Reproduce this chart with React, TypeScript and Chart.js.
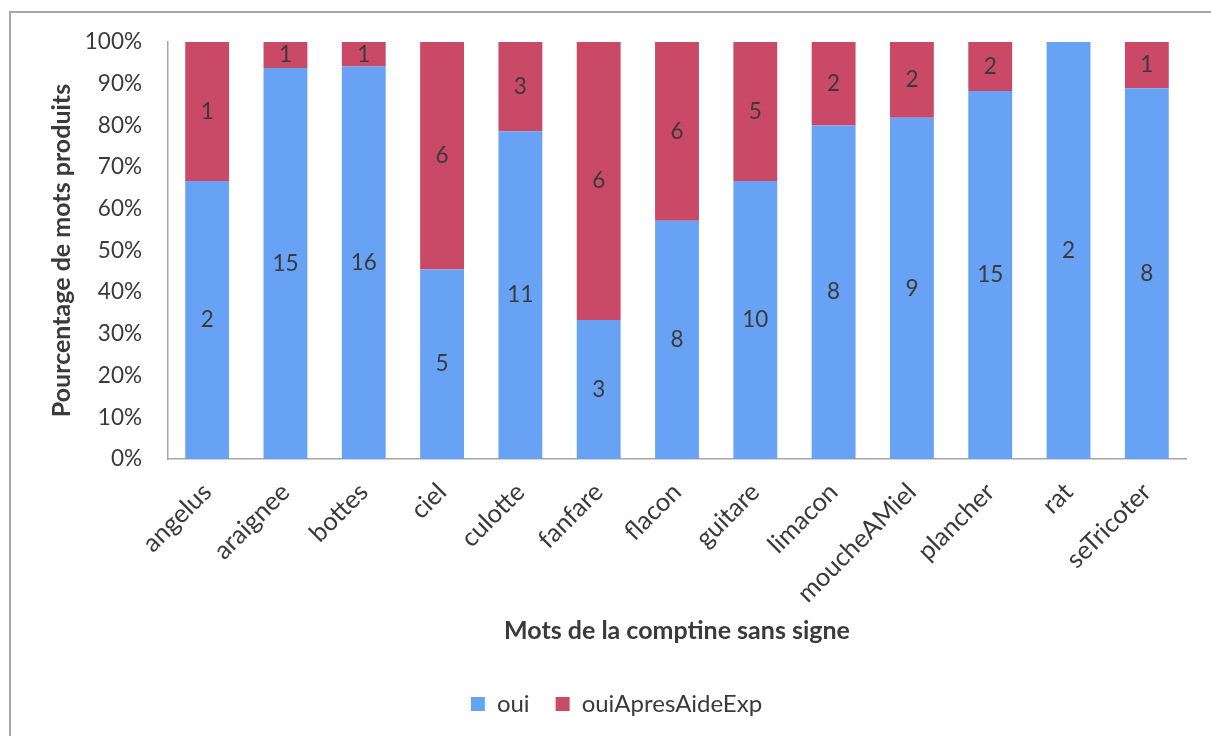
import { useEffect, useRef } from 'react';
import { Chart, registerables } from 'chart.js';

Chart.register(...registerables);

const categories = ['angelus', 'araignee', 'bottes', 'ciel', 'culotte', 'fanfare', 'flacon', 'guitare', 'limacon', 'moucheAMiel', 'plancher', 'rat', 'seTricoter'];
const ouiCounts = [2, 15, 16, 5, 11, 3, 8, 10, 8, 9, 15, 2, 8];
const apresCounts = [1, 1, 1, 6, 3, 6, 6, 5, 2, 2, 2, 0, 1];
const seriesNames = ['oui', 'ouiApresAideExp'];
const yTitle = 'Pourcentage de mots produits';
const xTitle = 'Mots de la comptine sans signe';

const FONT = 'Lato, "Open Sans", sans-serif';
const TEXT = '#3a3a3a';

export default function App() {
  const ref = useRef<HTMLCanvasElement | null>(null);
  useEffect(() => {
    if (!ref.current) return;
    const totals = ouiCounts.map((v, i) => v + apresCounts[i]);
    const ouiPct = ouiCounts.map((v, i) => (v / totals[i]) * 100);
    const apresPct = apresCounts.map((v, i) => (v / totals[i]) * 100);
    const counts = [ouiCounts, apresCounts];

    const labelPlugin = {
      id: 'segLabels',
      afterDatasetsDraw(chart: any) {
        const ctx = chart.ctx;
        ctx.save();
        ctx.font = `22.5px ${FONT}`;
        ctx.fillStyle = TEXT;
        ctx.textAlign = 'center';
        ctx.textBaseline = 'middle';
        chart.data.datasets.forEach((_: any, di: number) => {
          const meta = chart.getDatasetMeta(di);
          meta.data.forEach((el: any, i: number) => {
            const c = counts[di][i];
            if (!c) return;
            const p = el.getProps(['x', 'y', 'base'], true);
            ctx.fillText(String(c), p.x, (p.y + p.base) / 2);
          });
        });
        ctx.restore();
      },
    };

    const framePlugin = {
      id: 'frame',
      beforeDraw(chart: any) {
        const ctx = chart.ctx;
        ctx.save();
        ctx.fillStyle = '#ffffff';
        ctx.fillRect(0, 0, chart.width, chart.height);
        ctx.strokeStyle = '#a8a8a8';
        ctx.lineWidth = 2;
        ctx.beginPath();
        ctx.moveTo(10, chart.height + 2);
        ctx.lineTo(10, 12);
        ctx.lineTo(chart.width + 2, 12);
        ctx.stroke();
        ctx.restore();
      },
    };

    const chart = new Chart(ref.current, {
      type: 'bar',
      data: {
        labels: categories,
        datasets: [
          { label: seriesNames[0], data: ouiPct, backgroundColor: '#68a2f5', borderWidth: 0, barPercentage: 0.56, categoryPercentage: 1 },
          { label: seriesNames[1], data: apresPct, backgroundColor: '#ca4967', borderWidth: 0, barPercentage: 0.56, categoryPercentage: 1 },
        ],
      },
      options: {
        animation: false,
        responsive: false,
        layout: { padding: { left: 47, right: 25, top: 42, bottom: 10 } },
        plugins: {
          legend: {
            position: 'bottom',
            labels: { font: { family: FONT, size: 24 }, color: TEXT, boxWidth: 14, boxHeight: 14, padding: 26 },
          },
          tooltip: { enabled: false },
        },
        scales: {
          x: {
            stacked: true,
            grid: { display: false, drawTicks: false },
            border: { display: true, color: '#a6a6a6', width: 1.5 },
            ticks: { font: { family: FONT, size: 25.5 }, color: TEXT, minRotation: 45, maxRotation: 45, padding: 18 },
            title: { display: true, text: xTitle, font: { family: FONT, size: 25, weight: 'bold' }, color: TEXT, padding: { top: 0, bottom: 20 } },
            afterFit(scale: any) { scale.height = 207; },
          },
          y: {
            stacked: true,
            min: 0,
            max: 100,
            grid: { display: false, drawTicks: false },
            border: { display: true, color: '#a6a6a6', width: 1.5 },
            ticks: { stepSize: 10, font: { family: FONT, size: 22.5 }, color: TEXT, padding: 26, callback: (v: any) => v + '%' },
            title: { display: true, text: yTitle, font: { family: FONT, size: 25, weight: 'bold' }, color: TEXT, padding: { top: 0, bottom: 0 } },
            afterFit(scale: any) { scale.width = 121; },
          },
        },
      },
      plugins: [framePlugin, labelPlugin],
    } as any);
    return () => chart.destroy();
  }, []);

  return (
    <div style={{ position: 'absolute', left: 0, top: 0, width: 1211, height: 736 }}>
      <canvas ref={ref} width={1211} height={736} style={{ display: 'block' }} />
    </div>
  );
}
